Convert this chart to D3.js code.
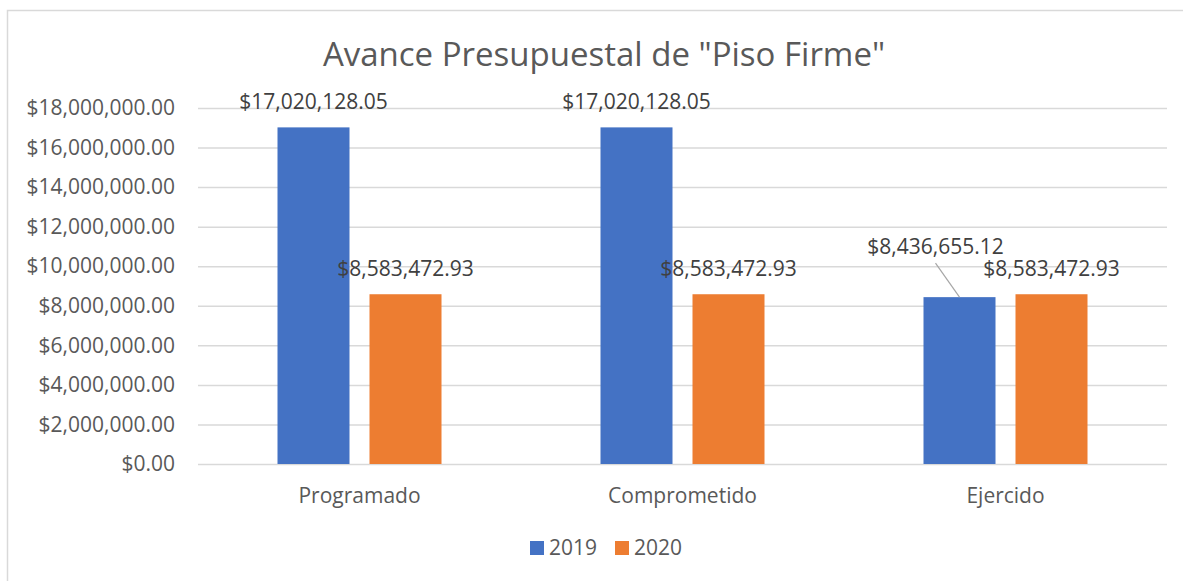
<!DOCTYPE html>
<html>
<head>
<meta charset="utf-8">
<script src="https://cdn.jsdelivr.net/npm/d3@7"></script>
<style>
  body { margin: 0; background: #fff; }
  svg { display: block; font-family: "Open Sans", sans-serif; }
</style>
</head>
<body>
<div id="chart"></div>
<script>
const categories = ['Programado', 'Comprometido', 'Ejercido'];
const seriesNames = ['2019', '2020'];
const values2019 = [17020128.05, 17020128.05, 8436655.12];
const values2020 = [8583472.93, 8583472.93, 8583472.93];
const yTickValues = [0, 2000000, 4000000, 6000000, 8000000, 10000000, 12000000, 14000000, 16000000, 18000000];
const title = 'Avance Presupuestal de "Piso Firme"';

const colors = {'2019': '#4472c4', '2020': '#ed7d31'};

const width = 1183;
const height = 581;
const margin = {top: 108, right: 16, bottom: 117, left: 198};

const rows = [];
categories.forEach((c, i) => {
    rows.push({cat: c, key: '2019', value: values2019[i]});
    rows.push({cat: c, key: '2020', value: values2020[i]});
});

const svg = d3.select('#chart')
    .append('svg')
        .attr('width', width)
        .attr('height', height);

// chart frame
svg.append('rect')
    .attr('x', 7.5)
    .attr('y', 10.5)
    .attr('width', width + 20)
    .attr('height', height + 20)
    .attr('fill', 'none')
    .attr('stroke', '#d9d9d9')
    .attr('stroke-width', 1.5);

const x = d3.scaleBand()
    .domain(categories)
    .range([margin.left, width - margin.right]);
const xs = d3.scaleBand()
    .domain(seriesNames)
    .range([79.5, 243.5])
    .paddingInner(20 / 92);
const y = d3.scaleLinear()
    .domain([0, 18000000])
    .range([height - margin.bottom, margin.top]);

const fmt = d3.format('$,.2f');

const yAxis = g =>
    g
        .attr('transform', `translate(${margin.left},0)`)
        .call(d3.axisLeft(y)
            .tickValues(yTickValues)
            .tickSize(-(width - margin.left - margin.right))
            .tickPadding(23)
            .tickFormat(fmt))
        .call(g => g.select('.domain').remove())
        .call(g => g.selectAll('.tick line')
            .attr('stroke', '#d9d9d9')
            .attr('stroke-width', 1.5))
        .call(g => g.selectAll('.tick text')
            .attr('fill', '#595959')
            .style('font-family', '"Open Sans", sans-serif')
            .style('font-size', '21px'));

svg.append('g').call(yAxis);

const xAxis = g =>
    g
        .attr('transform', `translate(0,${height - margin.bottom})`)
        .call(d3.axisBottom(x).tickSize(0).tickPadding(24))
        .call(g => g.select('.domain').remove())
        .call(g => g.selectAll('.tick text')
            .attr('fill', '#595959')
            .style('font-family', '"Open Sans", sans-serif')
            .style('font-size', '21px'));

svg.append('g').call(xAxis);

// bars
svg.append('g')
    .selectAll('rect')
    .data(rows)
    .join('rect')
        .attr('x', d => x(d.cat) + xs(d.key))
        .attr('y', d => y(d.value))
        .attr('width', xs.bandwidth())
        .attr('height', d => y(0) - y(d.value))
        .attr('fill', d => colors[d.key]);

// data labels (the Ejercido 2019 one is pulled off the bar with a leader line)
const moved = d => d.cat === 'Ejercido' && d.key === '2019';
const labelX = d => x(d.cat) + xs(d.key) + xs.bandwidth() / 2 + (moved(d) ? -24 : 0);
const labelY = d => y(d.value) - 18 + (moved(d) ? -25 : 0);

svg.append('g')
    .selectAll('line')
    .data(rows.filter(moved))
    .join('line')
        .attr('x1', d => labelX(d))
        .attr('y1', d => labelY(d) + 9)
        .attr('x2', d => x(d.cat) + xs(d.key) + xs.bandwidth() / 2)
        .attr('y2', d => y(d.value))
        .attr('stroke', '#a6a6a6')
        .attr('stroke-width', 1.2);

svg.append('g')
    .selectAll('text')
    .data(rows)
    .join('text')
        .attr('x', labelX)
        .attr('y', labelY)
        .attr('text-anchor', 'middle')
        .attr('fill', '#404040')
        .style('font-size', '21px')
        .text(d => fmt(d.value));

// title
svg.append('text')
    .attr('x', 604)
    .attr('y', 66)
    .attr('text-anchor', 'middle')
    .attr('fill', '#595959')
    .style('font-size', '33px')
    .text(title);

// legend
const legend = svg.append('g')
    .selectAll('g')
    .data(seriesNames)
    .join('g')
        .attr('transform', (d, i) => `translate(${530 + i * 85},541)`);
legend.append('rect')
    .attr('width', 14)
    .attr('height', 14)
    .attr('fill', d => colors[d]);
legend.append('text')
    .attr('x', 19)
    .attr('y', 14)
    .attr('fill', '#595959')
    .style('font-size', '21px')
    .text(d => d);
</script>
</body>
</html>
